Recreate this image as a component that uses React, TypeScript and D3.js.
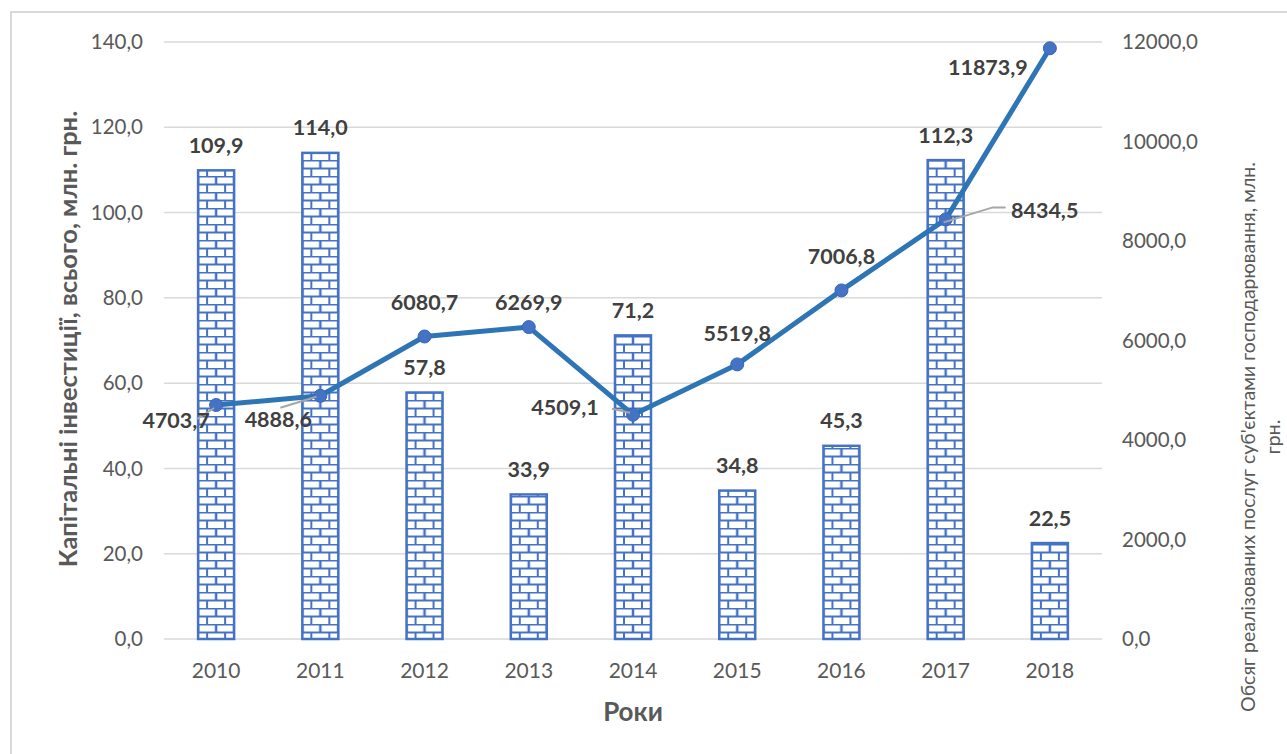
import React from "react";
import * as d3 from "d3";

const years = ["2010", "2011", "2012", "2013", "2014", "2015", "2016", "2017", "2018"];
const investments = [109.9, 114.0, 57.8, 33.9, 71.2, 34.8, 45.3, 112.3, 22.5];
const services = [4703.7, 4888.6, 6080.7, 6269.9, 4509.1, 5519.8, 7006.8, 8434.5, 11873.9];
const leftTicks = [0, 20, 40, 60, 80, 100, 120, 140];
const rightTicks = [0, 2000, 4000, 6000, 8000, 10000, 12000];

// label layout (offsets from point, text centers)
const lineLabelOffsets: [number, number][] = [
  [-40, 15], [-42, 24], [0, -34], [0, -25], [-68, -7], [0, -31], [0, -34], [99, -9], [-62, 19],
];
const leaders: ([number, number][] | null)[] = [
  [[-19, 14], [-2, 3]],
  [[-40, 12], [-4, 1]],
  null, null,
  [[-21, -6], [-3, -2]],
  null, null,
  [[-2, 3], [47, -12], [60, -12]],
  null,
];

const fmt = (v: number) => v.toFixed(1).replace(".", ",");

export default function App() {
  const W = 1287, H = 754;
  const x = d3.scaleBand<string>().domain(years).range([164, 1102]).paddingInner(0).paddingOuter(0);
  const yL = d3.scaleLinear().domain([0, 140]).range([639, 42]);
  const yR = d3.scaleLinear().domain([0, 12000]).range([639, 42]);
  const barW = 36;
  const cx = (yr: string) => (x(yr) as number) + x.bandwidth() / 2;
  const linePath = d3.line<number>().x((_, i) => cx(years[i])).y((d) => yR(d))(services) as string;
  const gray = "#595959";
  const dark = "#404040";
  const blue = "#4472c4";
  const font = "Lato, 'Open Sans', sans-serif";

  return (
    <svg width={W} height={H} style={{ position: "absolute", left: 0, top: 0, background: "#fff" }} fontFamily={font}>
      <defs>
        {years.map((yr, i) => (
          <pattern key={yr} id={`brick${i}`} patternUnits="userSpaceOnUse" width={18} height={16} x={cx(yr) - barW / 2} y={0}>
            <rect width={18} height={16} fill="#fff" />
            <line x1={0} y1={0.5} x2={18} y2={0.5} stroke={blue} strokeWidth={2} />
            <line x1={0} y1={8.5} x2={18} y2={8.5} stroke={blue} strokeWidth={2} />
            <line x1={0} y1={0} x2={0} y2={8} stroke={blue} strokeWidth={2.5} />
            <line x1={18} y1={0} x2={18} y2={8} stroke={blue} strokeWidth={2.5} />
            <line x1={9} y1={8} x2={9} y2={16} stroke={blue} strokeWidth={2} />
          </pattern>
        ))}
      </defs>
      <rect x={11} y={12} width={1400} height={800} fill="none" stroke="#d9d9d9" strokeWidth={2} />
      {leftTicks.map((t) => (
        <line key={t} x1={164} x2={1102} y1={yL(t)} y2={yL(t)} stroke="#d9d9d9" strokeWidth={1.5} />
      ))}
      {leftTicks.map((t) => (
        <text key={t} x={143} y={yL(t)} dy="0.35em" textAnchor="end" fontSize={20.5} fill={gray}>{fmt(t)}</text>
      ))}
      {rightTicks.map((t) => (
        <text key={t} x={1122} y={yR(t)} dy="0.35em" textAnchor="start" fontSize={20.5} fill={gray}>{fmt(t)}</text>
      ))}
      {years.map((yr) => (
        <text key={yr} x={cx(yr)} y={671} dy="0.35em" textAnchor="middle" fontSize={21} fill={gray}>{yr}</text>
      ))}
      {years.map((yr, i) => (
        <rect key={yr} x={cx(yr) - barW / 2} y={yL(investments[i])} width={barW} height={yL(0) - yL(investments[i])}
          fill={`url(#brick${i})`} stroke={blue} strokeWidth={2.5} />
      ))}
      {years.map((yr, i) => (
        <text key={yr} x={cx(yr)} y={yL(investments[i]) - 25} dy="0.35em" textAnchor="middle" fontSize={21.5} fontWeight="bold" fill={dark}>{fmt(investments[i])}</text>
      ))}
      <path d={linePath} fill="none" stroke="#2e75b6" strokeWidth={5} strokeLinejoin="round" />
      {services.map((v, i) => (
        <circle key={i} cx={cx(years[i])} cy={yR(v)} r={6.5} fill={blue} stroke="#3a66b5" strokeWidth={1} />
      ))}
      {services.map((v, i) => {
        const l = leaders[i];
        if (!l) return null;
        const px = cx(years[i]), py = yR(v);
        return (
          <polyline key={i} points={l.map(([a, b]) => `${px + a},${py + b}`).join(" ")} fill="none" stroke="#a6a6a6" strokeWidth={2} />
        );
      })}
      {services.map((v, i) => (
        <text key={i} x={cx(years[i]) + lineLabelOffsets[i][0]} y={yR(v) + lineLabelOffsets[i][1]} dy="0.35em" textAnchor="middle"
          fontSize={21.5} fontWeight="bold" fill={dark}>{fmt(v)}</text>
      ))}
      <text transform="translate(68,339) rotate(-90)" textAnchor="middle" dy="0.35em" fontSize={25.5} fontWeight="bold" fill={gray}>
        Капітальні інвестиції, всього, млн. грн.
      </text>
      <text transform="translate(1248,437) rotate(-90)" textAnchor="middle" dy="0.35em" fontSize={19.5} fill={gray}>
        Обсяг реалізованих послуг суб'єктами господарювання, млн.
      </text>
      <text transform="translate(1273,437) rotate(-90)" textAnchor="middle" dy="0.35em" fontSize={19.5} fill={gray}>
        грн.
      </text>
      <text x={633} y={712} dy="0.35em" textAnchor="middle" fontSize={26} fontWeight="bold" fill={gray}>Роки</text>
    </svg>
  );
}
